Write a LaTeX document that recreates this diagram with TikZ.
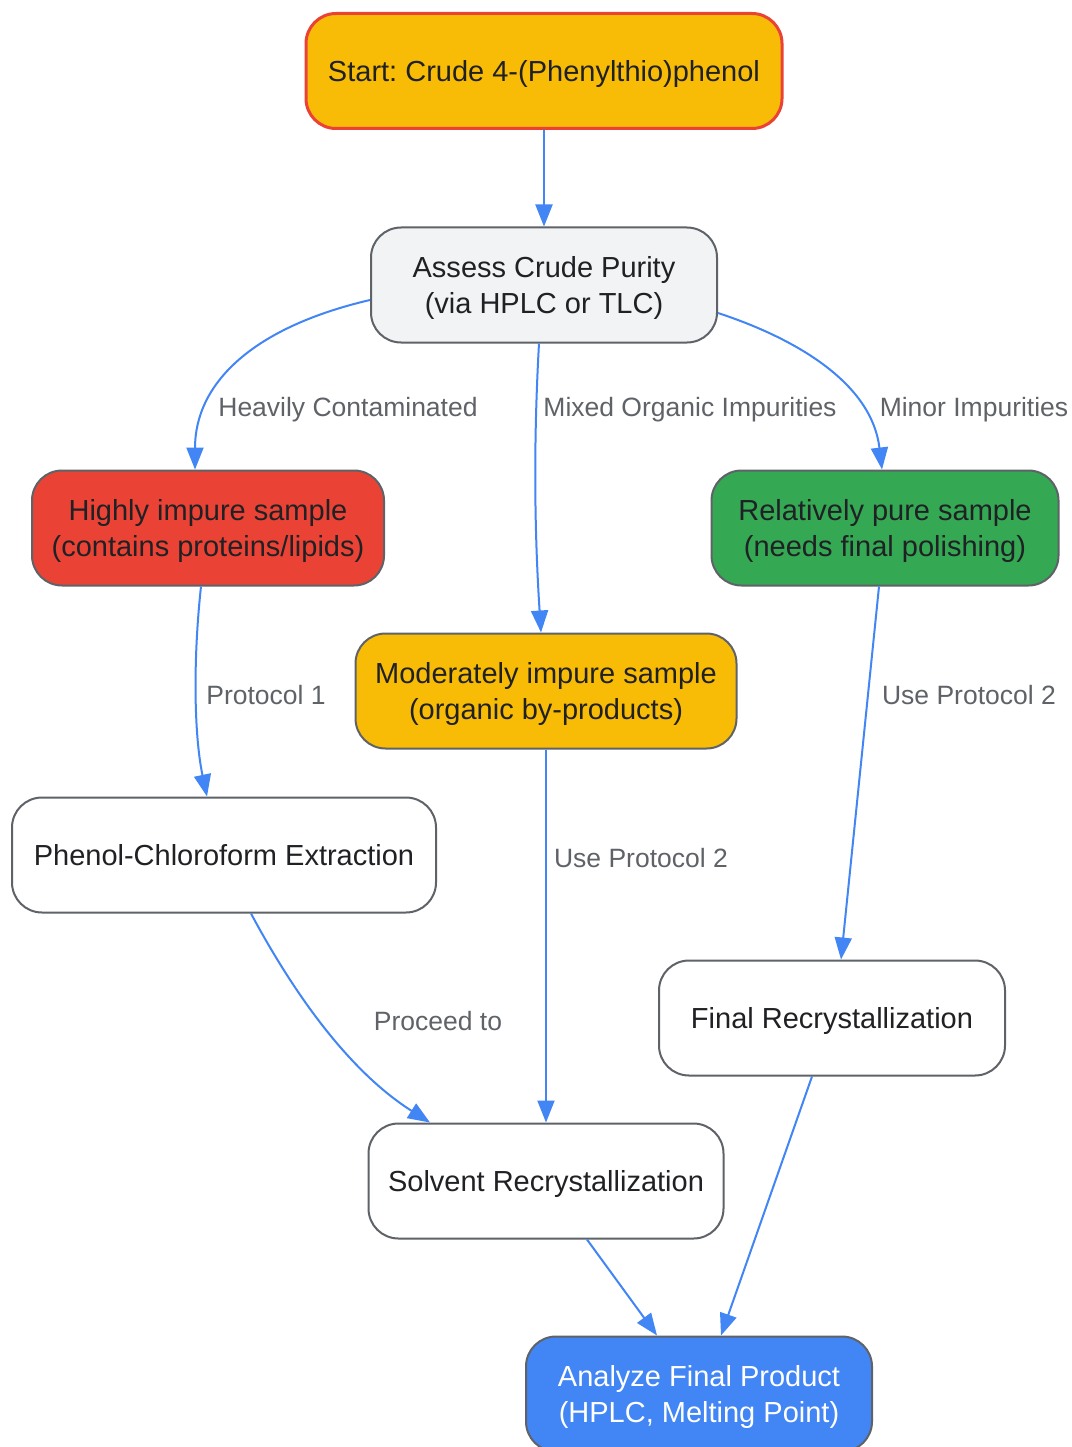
\documentclass[tikz,border=0pt]{standalone}
\usepackage{fontspec}
\setmainfont{Liberation Sans}
\frenchspacing
\usetikzlibrary{arrows.meta,calc}
\definecolor{cyellow}{HTML}{F9BC06}
\definecolor{cred}{HTML}{EA4335}
\definecolor{cgreen}{HTML}{34A853}
\definecolor{cblue}{HTML}{4285F4}
\definecolor{cgrey}{HTML}{F1F3F4}
\definecolor{cborder}{HTML}{5F6368}
\definecolor{ctext}{HTML}{202124}
\definecolor{clabel}{HTML}{5F6368}
\newcommand\mytopstrut{\rule{0pt}{30pt}}
\tikzset{
  box/.style={draw=cborder, line width=2pt, rounded corners=30pt, align=center,
    minimum height=115pt, inner sep=0pt, text=ctext,
    font=\fontsize{29}{36}\selectfont,
    execute at begin node={\rule{0pt}{30pt}},
    execute at end node={\rule[-9pt]{0pt}{9pt}}},
  elabel/.style={text=clabel, font=\fontsize{26.5}{32}\selectfont, inner sep=0pt},
  conn/.style={draw=cblue, line width=2pt, -{Triangle[length=22pt,width=17pt]}},
}
\begin{document}
\begin{tikzpicture}[x=1pt,y=-1pt]
\clip (0,0) rectangle (1071,1447);
\fill[white] (0,0) rectangle (1071,1447);

\node[box, fill=cyellow, draw=cred, line width=3pt, minimum width=476pt] (start) at (544,71) {Start: Crude 4-(Phenylthio)phenol};
\node[box, fill=cgrey, minimum width=346pt] (assess) at (544,285) {\mytopstrut Assess Crude Purity\\(via HPLC or TLC)};
\node[box, fill=cred, minimum width=352pt] (high) at (208,528) {\mytopstrut Highly impure sample\\(contains proteins/lipids)};
\node[box, fill=cgreen, minimum width=347pt] (rel) at (885,528) {\mytopstrut Relatively pure sample\\(needs final polishing)};
\node[box, fill=cyellow, minimum width=381pt] (mod) at (546,691) {\mytopstrut Moderately impure sample\\(organic by-products)};
\node[box, fill=white, minimum width=424pt] (phenol) at (224,855) {Phenol-Chloroform Extraction};
\node[box, fill=white, minimum width=346pt] (finalr) at (832,1018) {Final Recrystallization};
\node[box, fill=white, minimum width=355pt] (solvent) at (546,1181) {Solvent Recrystallization};
\node[box, fill=cblue, text=white, minimum width=346pt] (analyze) at (699,1394) {\mytopstrut Analyze Final Product\\(HPLC, Melting Point)};

\node[elabel] (l1) at (348,410) {Heavily Contaminated};
\node[elabel] (l2) at (690,410) {Mixed Organic Impurities};
\node[elabel] (l3) at (974,410) {Minor Impurities};
\node[elabel] (l4) at (266,695) {Protocol 1};
\node[elabel] (l5) at (969,695) {Use Protocol 2};
\node[elabel] (l6) at (641,858) {Use Protocol 2};
\node[elabel] (l7) at (438,1021) {Proceed to};

\draw[conn] (start.south) -- (assess.north);
\draw[conn] ($(assess.west)+(0,15)$) .. controls (250,328) and (195,385) .. ($(high.north)+(-13,0)$);
\draw[conn] ($(assess.south)+(-5,0)$) .. controls (533,450) and (535,540) .. ($(mod.north)+(-5,0)$);
\draw[conn] ($(assess.east)+(0,28)$) .. controls (800,340) and (872,385) .. ($(rel.north)+(-3,0)$);
\draw[conn] ($(high.south)+(-7,0)$) .. controls (193,660) and (194,735) .. ($(phenol.north)+(-17,0)$);
\draw[conn] ($(rel.south)+(-6,0)$) -- ($(finalr.north)+(9,0)$);
\draw[conn] (mod.south) -- (solvent.north);
\draw[conn] ($(phenol.south)+(27,0)$) .. controls (300,1005) and (355,1075) .. ($(solvent.north)+(-116,0)$);
\draw[conn] ($(solvent.south)+(41,0)$) -- ($(analyze.north)+(-42,0)$);
\draw[conn] ($(finalr.south)+(-20,0)$) -- ($(analyze.north)+(22,0)$);
\end{tikzpicture}
\end{document}
